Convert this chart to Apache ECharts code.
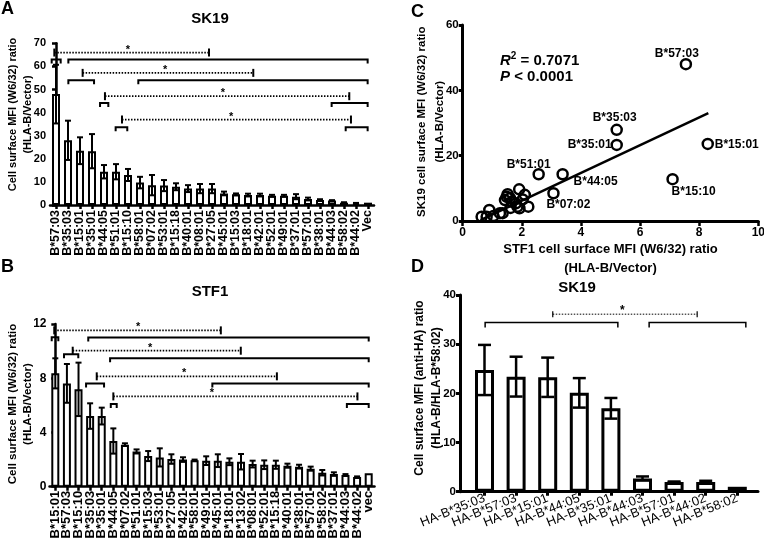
<!DOCTYPE html>
<html><head><meta charset="utf-8">
<script src="https://cdn.jsdelivr.net/npm/echarts@6/dist/echarts.min.js"></script>
<style>html,body{margin:0;padding:0;background:#fff}#c{width:764px;height:541px}</style>
</head><body><div id="c"></div>
<script>
// ---------- DATA ----------
// Panel A: SK19 (W6/32) ratio
const aCats = ['B*57:03','B*35:03','B*15:01','B*35:01','B*44:05','B*51:01','B*15:10','B*58:01','B*07:02','B*53:01','B*15:18','B*40:01','B*08:01','B*27:05','B*45:01','B*15:03','B*18:01','B*42:01','B*52:01','B*49:01','B*37:01','B*57:01','B*38:01','B*44:03','B*58:02','B*44:02','Vec'];
const aVals = [48,28,23.5,23.3,14.4,14.4,13,9.7,8.6,8.4,7.9,7.1,7.1,7.1,5.0,4.6,4.3,4.3,4.0,4.0,3.6,2.6,2.2,1.9,1.0,0.8,1.0];
const aErr  = [12.7,8.5,5.8,7.4,2.9,3.3,2.6,2.5,4.4,2.4,1.5,1.5,2.0,2.0,0.8,0.4,0.6,0.6,0.4,0.4,1.1,0.6,0.3,0.2,0.2,0.1,0];
// significance brackets: [fromIndex, toIndex, level]
const aBrackets = [[-0.36,0.39,63],[1.03,25.97,63],[1.03,3.17,54],[6.86,25.97,54],[3.67,4.36,44.2],[22.97,25.97,44.2],[4.97,5.94,33.7],[24.14,25.97,33.7]];
// dotted connectors: [fromIndex, toIndex, level, starIndex]
const aLinks = [[-0.14,12.75,66,6.0],[2.22,16.44,57.2,9.1],[4.08,24.44,47.1,13.9],[5.5,24.58,37,14.6]];

// Panel B: STF1 (W6/32) ratio
const bCats = ['B*15:01','B*57:03','B*15:10','B*35:03','B*35:01','B*44:05','B*07:02','B*51:01','B*15:03','B*53:01','B*27:05','B*42:01','B*58:01','B*49:01','B*45:01','B*18:01','B*13:02','B*08:01','B*52:01','B*15:18','B*40:01','B*38:01','B*57:01','B*58:02','B*37:01','B*44:03','B*44:02','vec'];
const bVals = [8.36,7.62,7.18,5.21,5.21,3.37,3.1,2.6,2.26,2.16,2.04,2.0,1.95,1.92,1.92,1.84,1.84,1.67,1.62,1.62,1.55,1.48,1.33,1.03,0.93,0.86,0.71,1.0];
const bErr  = [1.11,1.43,1.97,0.94,0.62,0.93,0.1,0.15,0.37,0.67,0.35,0.17,0.05,0.32,0.47,0.25,0.57,0.25,0.32,0.3,0.15,0.14,0.15,0.2,0.13,0.07,0.05,0];
const bBrackets = [[-0.31,0.26,11.02],[2.84,27,11.0],[0.75,1.98,9.76],[4.72,27,9.47],[2.65,4.2,7.62],[13.53,27,7.62],[4.78,5.29,6.1],[25.12,27,6.1]];
const bLinks = [[-0.09,14.26,11.53,7.13],[1.5,15.98,10.03,8.16],[3.57,19.09,8.14,11.09],[5.0,26.03,6.66,13.48]];

// Panel C: scatter STF1 (x) vs SK19 (y)
const cLabelNames = ['B*57:03','B*35:03','B*35:01','B*15:01','B*15:10','B*51:01','B*44:05','B*07:02'];
const cLabelX = [7.55,5.21,5.21,8.29,7.1,2.57,3.38,3.07];
const cLabelY = [48,27.9,23.3,23.6,12.8,14.3,14.3,8.5];
const cOtherX = [1.91,2.1,1.52,1.49,1.43,1.6,2.03,1.66,1.8,1.85,1.92,2.22,1.62,1.26,1.35,0.9,0.64,0.81,1.04];
const cOtherY = [9.7,8.0,8.2,7.4,6.4,7.0,6.6,5.9,5.4,4.4,3.9,4.4,4.0,2.4,2.4,3.4,1.3,1.3,1.5];
const cFitX = [0.6,8.31];
const cFitY = [0.3,33];

// Panel D: SK19 (anti-HA) ratio
const dCats = ['HA-B*35:03','HA-B*57:03','HA-B*15:01','HA-B*44:05','HA-B*35:01','HA-B*44:03','HA-B*57:01','HA-B*44:02','HA-B*58:02'];
const dVals = [24.75,23.4,23.27,20.1,16.96,2.7,1.97,1.97,1.0];
const dErr  = [5.1,4.05,4.0,3.0,2.1,0.4,0.1,0.25,0];
const dBrackets = [[0.02,4.22,34.4],[5.21,8.27,34.4]];
const dLinks = [[2.16,6.73,36.1,4.36]];

// ---------- RENDER ----------
const FF = '"Liberation Sans", Arial, Helvetica, sans-serif';
const chart = echarts.init(document.getElementById('c'), null, {renderer:'canvas', width:764, height:541});

function errRender(capHalf, lw){
  return function(params, api){
    const x = api.value(0), v = api.value(1), e = api.value(2);
    if (!e) return {type:'group', children:[]};
    const t = api.coord([x, v+e]), b = api.coord([x, v-e]);
    const st = {stroke:'#000', lineWidth:lw};
    return {type:'group', children:[
      {type:'line', shape:{x1:t[0],y1:t[1],x2:b[0],y2:b[1]}, style:st},
      {type:'line', shape:{x1:t[0]-capHalf,y1:t[1],x2:t[0]+capHalf,y2:t[1]}, style:st},
      {type:'line', shape:{x1:b[0]-capHalf,y1:b[1],x2:b[0]+capHalf,y2:b[1]}, style:st}
    ]};
  };
}
function bracketRender(tick, lw){
  return function(params, api){
    const a = api.coord([api.value(0), api.value(2)]);
    const b = api.coord([api.value(1), api.value(2)]);
    return {type:'polyline', shape:{points:[[a[0],a[1]+tick],[a[0],a[1]],[b[0],b[1]],[b[0],b[1]+tick]]},
      style:{stroke:'#000', lineWidth:lw, fill:null}};
  };
}
function linkRender(tick, lw, dash, tickW, starSize, starDy){
  return function(params, api){
    const a = api.coord([api.value(0), api.value(2)]);
    const b = api.coord([api.value(1), api.value(2)]);
    const s = api.coord([api.value(3), api.value(2)]);
    return {type:'group', children:[
      {type:'line', shape:{x1:a[0],y1:a[1],x2:b[0],y2:b[1]}, style:{stroke:'#000', lineWidth:lw, lineDash:dash}},
      {type:'line', shape:{x1:a[0],y1:a[1]-tick,x2:a[0],y2:a[1]+tick}, style:{stroke:'#000', lineWidth:tickW}},
      {type:'line', shape:{x1:b[0],y1:b[1]-tick,x2:b[0],y2:b[1]+tick}, style:{stroke:'#000', lineWidth:tickW}},
      {type:'text', x:s[0], y:s[1]+starDy, style:{text:'*', font:'bold '+starSize+'px '+FF, fill:'#000', align:'center', verticalAlign:'middle'}}
    ]};
  };
}

const lab = (size, weight) => ({color:'#000', fontFamily:FF, fontWeight:weight||'bold', fontSize:size});

function yAxis(grid, min, max, interval, lw, size, margin){
  return {
    type:'value', gridIndex:grid, min, max, interval,
    axisLine:{show:true, lineStyle:{color:'#000', width:lw}},
    axisTick:{show:true, inside:false, length:4, lineStyle:{color:'#000', width:lw}},
    axisLabel:Object.assign({show:true, margin:margin}, lab(size)),
    splitLine:{show:false}
  };
}
function hiddenX(grid, n){
  return {type:'value', gridIndex:grid, min:-0.5, max:n-0.5, show:false, splitLine:{show:false}};
}
function catX(grid, cats, rot, size, margin, weight, lw, showLine){
  return {type:'category', gridIndex:grid, data:cats,
    axisLine:{show:showLine!==false, onZero:false, lineStyle:{color:'#000', width:lw}},
    axisTick:{show:true, alignWithLabel:true, length:4, lineStyle:{color:'#000', width:lw}},
    axisLabel:Object.assign({interval:0, rotate:rot, margin:margin}, lab(size, weight)),
    splitLine:{show:false}};
}
function vTitle(x, y, text, size, lh){
  return {type:'text', x:x, y:y, rotation:Math.PI/2,
    style:{text:text, font:'bold '+size+'px '+FF, lineHeight:lh, fill:'#000', align:'center', verticalAlign:'middle'}};
}
function label(x, y, text, size){
  return {type:'text', x:x, y:y, style:{text:text, font:'bold '+size+'px '+FF, fill:'#000', align:'center', verticalAlign:'middle'}};
}

const option = {
  animation:false,
  backgroundColor:'#fff',
  grid:[
    {left:50, top:43.3, width:324, height:161.7, outerBoundsMode:'none'},
    {left:49.5, top:324, width:325, height:162.7, outerBoundsMode:'none'},
    {left:462.7, top:25, width:295.6, height:196, outerBoundsMode:'none'},
    {left:460, top:295, width:298, height:196.7, outerBoundsMode:'none'},
    {left:468.7, top:295, width:284.4, height:196.7, outerBoundsMode:'none'}
  ],
  xAxis:[
    catX(0, aCats, 90, 12.5, 5, 'bold', 2.5),
    hiddenX(0, aCats.length),
    catX(1, bCats, 90, 13, 4, 'bold', 2.5),
    hiddenX(1, bCats.length),
    {type:'value', gridIndex:2, min:0, max:10, interval:2,
      axisLine:{show:true, onZero:false, lineStyle:{color:'#000', width:3}},
      axisTick:{show:true, length:5, lineStyle:{color:'#000', width:2.5}},
      axisLabel:Object.assign({margin:6}, lab(12)), splitLine:{show:false},
      name:'STF1 cell surface MFI (W6/32) ratio\n(HLA-B/Vector)', nameLocation:'middle', nameGap:19, nameMoveOverlap:false,
      nameTextStyle:Object.assign({lineHeight:19}, lab(13))},
    {type:'value', gridIndex:3, min:0, max:1, axisLine:{show:true, onZero:false, lineStyle:{color:'#000', width:3}},
      axisTick:{show:false}, axisLabel:{show:false}, splitLine:{show:false}},
    catX(4, dCats, 22, 13, 6, 'normal', 3, false),
    hiddenX(4, dCats.length)
  ],
  yAxis:[
    yAxis(0, 0, 70, 10, 2.5, 11, 4),
    yAxis(1, 0, 12, 4, 2.5, 12, 3),
    yAxis(2, 0, 60, 20, 3, 11.5, 4),
    yAxis(3, 0, 40, 10, 3, 11.5, 4),
    {type:'value', gridIndex:4, min:0, max:40, show:false, splitLine:{show:false}}
  ],
  graphic:[
    label(7.5, 9.5, 'A', 18),
    label(210, 19, 'SK19', 15),
    vTitle(20.8, 114.5, 'Cell surface MFI (W6/32) ratio\n(HLA-B/Vector)', 11, 15),
    label(7.5, 267.5, 'B', 18),
    label(210, 292, 'STF1', 15),
    vTitle(20.8, 404, 'Cell surface MFI (W6/32) ratio\n(HLA-B/Vector)', 11.5, 15),
    label(417.5, 12, 'C', 18),
    vTitle(430.8, 121.7, 'SK19 cell surface MFI (W6/32) ratio\n(HLA-B/Vector)', 11.5, 18),
    {type:'text', x:500, y:61, style:{text:'{i|R}{s|2}{n| = 0.7071}', fill:'#000', align:'left', verticalAlign:'middle',
      rich:{i:{font:'italic bold 15px '+FF, fill:'#000'}, s:{font:'bold 10px '+FF, fill:'#000', padding:[0,0,9,0]}, n:{font:'bold 15px '+FF, fill:'#000'}}}},
    {type:'text', x:500, y:77, style:{text:'{i|P}{n| < 0.0001}', fill:'#000', align:'left', verticalAlign:'middle',
      rich:{i:{font:'italic bold 15px '+FF, fill:'#000'}, n:{font:'bold 15px '+FF, fill:'#000'}}}},
    label(417.5, 267.5, 'D', 18),
    label(577, 288, 'SK19', 15),
    vTitle(428.6, 388, 'Cell surface MFI (anti-HA) ratio\n(HLA-B/HLA-B*58:02)', 12, 17)
  ],
  series:[
    // Panel A
    {type:'bar', xAxisIndex:0, yAxisIndex:0, data:aVals, barWidth:8,
      itemStyle:{color:'#fff', borderColor:'#000', borderWidth:2}, z:2},
    {type:'custom', xAxisIndex:1, yAxisIndex:0, data:aVals.map((v,i)=>[i,v,aErr[i]]), renderItem:errRender(3,2), z:3},
    {type:'custom', xAxisIndex:1, yAxisIndex:0, data:aBrackets, renderItem:bracketRender(4,2), z:3},
    {type:'custom', xAxisIndex:1, yAxisIndex:0, data:aLinks, renderItem:linkRender(4,1.8,[1.5,1.5],2,11,-3), z:3},
    // Panel B
    {type:'bar', xAxisIndex:2, yAxisIndex:1, data:bVals, barWidth:8,
      itemStyle:{color:'#fff', borderColor:'#000', borderWidth:2}, z:2},
    {type:'custom', xAxisIndex:3, yAxisIndex:1, data:bVals.map((v,i)=>[i,v,bErr[i]]), renderItem:errRender(3,2), z:3},
    {type:'custom', xAxisIndex:3, yAxisIndex:1, data:bBrackets, renderItem:bracketRender(4,2), z:3},
    {type:'custom', xAxisIndex:3, yAxisIndex:1, data:bLinks, renderItem:linkRender(4,1.8,[1.5,1.5],2,11,-3), z:3},
    // Panel C
    {type:'line', xAxisIndex:4, yAxisIndex:2, data:cFitX.map((x,i)=>[x,cFitY[i]]), symbol:'none',
      lineStyle:{color:'#000', width:2.5}, z:2},
    {type:'scatter', xAxisIndex:4, yAxisIndex:2, data:cOtherX.map((x,i)=>[x,cOtherY[i]]), symbol:'circle', symbolSize:10,
      itemStyle:{color:'rgba(255,255,255,0)', borderColor:'#000', borderWidth:2.5, opacity:1}, z:3},
    {type:'scatter', xAxisIndex:4, yAxisIndex:2, symbol:'circle', symbolSize:10,
      itemStyle:{color:'#fff', borderColor:'#000', borderWidth:2.5, opacity:1}, z:3,
      data:cLabelNames.map((n,i)=>({name:n, value:[cLabelX[i], cLabelY[i]],
        label:{offset:[[-9,-11],[-2,-12],[-27,0],[29,1],[21,13],[-10,-10],[33,7],[15,11]][i]}})),
      label:{show:true, position:'inside', formatter:'{b}', color:'#000', fontFamily:FF, fontWeight:'bold', fontSize:12}},
    // Panel D
    {type:'bar', xAxisIndex:6, yAxisIndex:4, data:dVals, barWidth:19,
      itemStyle:{color:'#fff', borderColor:'#000', borderWidth:3}, z:2},
    {type:'custom', xAxisIndex:7, yAxisIndex:4, data:dVals.map((v,i)=>[i,v,dErr[i]]), renderItem:errRender(6.5,2.5), z:3},
    {type:'custom', xAxisIndex:7, yAxisIndex:4, data:dBrackets, renderItem:bracketRender(5,1.5), z:3},
    {type:'custom', xAxisIndex:7, yAxisIndex:4, data:dLinks, renderItem:linkRender(3,1,[1.5,1.5],1.2,12,-3), z:3}
  ]
};
chart.setOption(option);
</script></body></html>
